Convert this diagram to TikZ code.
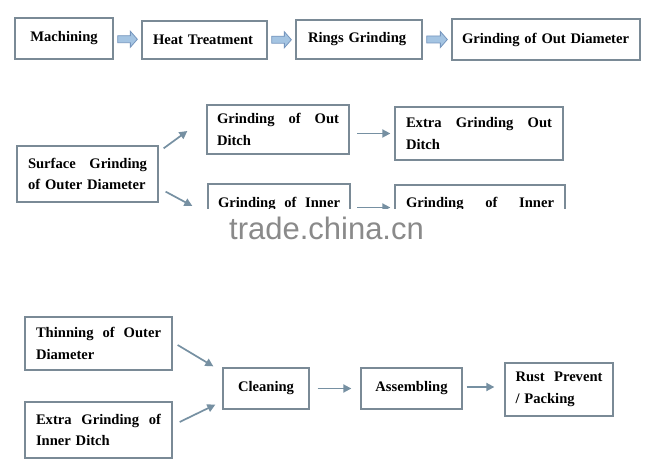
\documentclass[tikz,border=0pt]{standalone}
\usepackage{fontspec}
\setmainfont{Liberation Serif}
\newfontfamily\wmfont{Liberation Sans}
\usepackage{tikz}
\usetikzlibrary{arrows.meta,calc}
\usepackage{xcolor}
\definecolor{boxline}{RGB}{122,138,150}
\definecolor{flowline}{RGB}{118,144,162}
\definecolor{arrfill}{RGB}{164,196,226}
\definecolor{arrline}{RGB}{118,150,190}
\definecolor{wmgray}{RGB}{138,138,138}
\hyphenpenalty=10000
\exhyphenpenalty=10000

\newcommand{\blockarrow}[2]{%
  \draw[draw=arrline,fill=arrfill,line width=0.8pt]
    let \p1=($(#1.east)+(4,0)$), \p2=($(#2.west)+(-4,0)$), \p3=($(#1.east)!0.5!(#2.west)$) in
    (\x1,\y3+3.5pt) -- (\x2-7pt,\y3+3.5pt) -- (\x2-7pt,\y3+8pt) -- (\x2,\y3)
    -- (\x2-7pt,\y3-8pt) -- (\x2-7pt,\y3-3.5pt) -- (\x1,\y3-3.5pt) -- cycle;}

\begin{document}
\begin{tikzpicture}[x=1pt,y=-1pt,>={Triangle[length=8pt,width=8pt]},line join=miter,
  box/.style={draw=boxline,line width=1.3pt,inner ysep=0pt,
    font=\bfseries\fontsize{14.6}{21.5}\selectfont},
  tbox/.style={box,align=left},
  flow/.style={->,draw=flowline,line width=1.7pt}]
\useasboundingbox[fill=white] (0,0) rectangle (651,473);

\node[box,minimum width=98pt,minimum height=41pt] (mach) at (64,38.5) {Machining};
\node[tbox,text width=103pt,inner xsep=11pt,minimum height=38pt] (heat) at (204.5,40) {Heat Treatment};
\node[tbox,text width=102pt,inner xsep=12pt,minimum height=39pt] (rings) at (359,39.5) {Rings Grinding};
\node[tbox,text width=168pt,inner xsep=10pt,minimum height=41pt] (god) at (546,39.5) {Grinding of Out Diameter};
\blockarrow{mach}{heat}
\blockarrow{heat}{rings}
\blockarrow{rings}{god}

\node[tbox,text width=119pt,inner xsep=11pt,minimum height=56pt] (sgod) at (87.5,174) {Surface\hfill Grinding\\\mbox{of Outer Diameter}};
\node[tbox,text width=122pt,inner xsep=10pt,minimum height=49pt] (godt) at (278,129.5) {Grinding\hfill of\hfill Out\\Ditch};
\node[tbox,text width=146pt,inner xsep=11pt,minimum height=53pt] (egodt) at (479,133.5) {Extra\hfill Grinding\hfill Out\\Ditch};
\node[tbox,text width=122pt,inner xsep=10pt,minimum height=49pt] (gid) at (279,208.5) {Grinding\hfill of\hfill Inner\\[-10pt]\mbox{}};
\node[tbox,text width=148pt,inner xsep=11pt,minimum height=53pt] (gid2) at (480,211.5) {Grinding\hfill of\hfill Inner\\[-4pt]\mbox{}};
\draw[flow] ($(sgod.north east)+(5,3)$) -- ($(godt.west)+(-19,1.5)$);
\draw[flow] ($(sgod.south east)+(7,-11)$) -- ($(gid.west)+(-15,-2.5)$);
\draw[flow] ($(egodt.west)+(-37,0)$) -- ($(egodt.west)+(-4,0)$);
\draw[flow] ($(gid2.west)+(-37,-4)$) -- ($(gid2.west)+(-4,-4)$);

\fill[white] (0,209) rectangle (651,300);
\node[font=\wmfont\fontsize{31}{31}\selectfont,text=wmgray,inner sep=0pt] (wm) at (326.5,228) {trade.china.cn};

\node[tbox,text width=125pt,inner xsep=11pt,minimum height=53pt] (tood) at (98.5,343.5) {Thinning\hfill of\hfill Outer\\Diameter};
\node[tbox,text width=125pt,inner xsep=11pt,minimum height=56pt] (egidt) at (98.5,430) {Extra\hfill Grinding\hfill of\\Inner Ditch};
\node[box,minimum width=86pt,minimum height=41pt] (clean) at (266,388.5) {Cleaning};
\node[box,minimum width=101pt,minimum height=41pt] (assem) at (411.5,388.5) {Assembling};
\node[tbox,text width=87pt,inner xsep=10.5pt,minimum height=53pt] (rust) at (559,389.5) {Rust\hfill Prevent\\/ Packing};
\draw[flow] ($(tood.east)+(5,1.5)$) -- ($(clean.north west)+(-9,-1)$);
\draw[flow] ($(egidt.east)+(7,-8)$) -- ($(clean.south west)+(-7,-5)$);
\draw[flow] ($(clean.east)+(8,0)$) -- ($(assem.west)+(-9,0)$);
\draw[flow] ($(assem.east)+(4,-1.5)$) -- ($(rust.west)+(-10,-2.5)$);
\end{tikzpicture}
\end{document}
